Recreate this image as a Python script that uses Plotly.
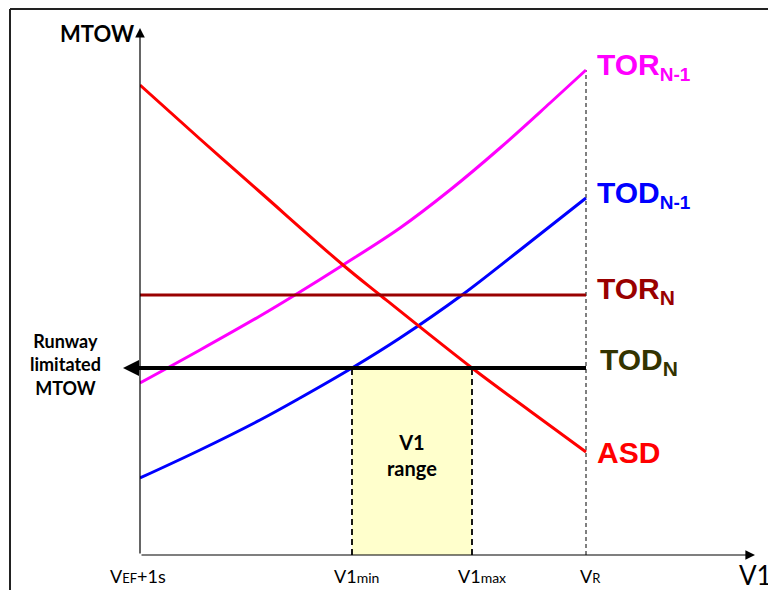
import plotly.graph_objects as go

# ---------------- data (abstract units: speed on x, MTOW on y) ----------------
speed_ticks = [0, 212, 332, 446]                  # VEF+1s, V1min, V1max, VR
speed_tick_labels = ["V<span style='font-size:13px'>EF</span>+1s",
                     "V1<span style='font-size:14px'>min</span>",
                     "V1<span style='font-size:14px'>max</span>",
                     "V<span style='font-size:13px'>R</span>"]

tor_n1_x = [0, 60, 120, 155, 203, 260, 310, 360, 410, 446]
tor_n1_y = [172, 205, 239, 260, 290, 327, 365, 407, 452, 485]

tod_n1_x = [0, 60, 120, 160, 212, 260, 322, 380, 446]
tod_n1_y = [77, 105, 135, 157, 187, 217, 260, 305, 357]

asd_x = [0, 60, 120, 203, 240, 332, 390, 446]
asd_y = [470, 416, 363, 290, 260, 187, 144, 103]

tor_n_level = 260
tod_n_level = 187

x_max = 615
y_max = 527

# ---------------- layout constants ----------------
OFF = 8                      # default page body margin of the html page
W, H = 776 - OFF, 590 - OFF
ML, MR, MT, MB = 140 - OFF, 21, 28 - OFF, 35
PW, PH = W - ML - MR, H - MT - MB


def px(x):   # screen x pixel -> paper
    return (x - OFF - ML) / PW


def py(y):   # screen y pixel -> paper
    return (H - MB - (y - OFF)) / PH


GEO = "Lato, 'DejaVu Sans', sans-serif"
BOLD = "'Liberation Sans', Arial, sans-serif"

v0, v1min, v1max, vr = speed_ticks

fig = go.Figure()

# V1 range box
fig.add_shape(type="rect", xref="x", yref="y", x0=v1min, x1=v1max, y0=0, y1=tod_n_level,
              fillcolor="#FFFFCC", line_width=0, layer="below")

# dashed verticals
for xv in (v1min, v1max):
    fig.add_trace(go.Scatter(x=[xv, xv], y=[0, tod_n_level], mode="lines",
                             line=dict(color="black", width=1.8, dash="6px,4px"),
                             hoverinfo="skip", showlegend=False))
fig.add_trace(go.Scatter(x=[vr, vr], y=[0, tor_n1_y[-1]], mode="lines",
                         line=dict(color="black", width=1, dash="4px,3px"),
                         hoverinfo="skip", showlegend=False))

# curves
fig.add_trace(go.Scatter(x=tor_n1_x, y=tor_n1_y, mode="lines", line_shape="spline",
                         line=dict(color="#FF00FF", width=3), showlegend=False))
fig.add_trace(go.Scatter(x=tod_n1_x, y=tod_n1_y, mode="lines", line_shape="spline",
                         line=dict(color="#0000FF", width=3), showlegend=False))
fig.add_trace(go.Scatter(x=asd_x, y=asd_y, mode="lines", line_shape="spline",
                         line=dict(color="#FF0000", width=3), showlegend=False))
fig.add_trace(go.Scatter(x=[v0, vr], y=[tor_n_level, tor_n_level], mode="lines",
                         line=dict(color="#990000", width=3), showlegend=False))
fig.add_trace(go.Scatter(x=[v0, vr], y=[tod_n_level, tod_n_level], mode="lines",
                         line=dict(color="black", width=4), showlegend=False,
                         cliponaxis=False))

ann = []
# axes arrows
ann.append(dict(x=x_max, y=0, ax=0, ay=0, xref="x", yref="y", axref="x", ayref="y",
                showarrow=True, arrowhead=2, arrowwidth=1.2, arrowsize=1.6, arrowcolor="black", text=""))
ann.append(dict(x=0, y=y_max, ax=0, ay=0, xref="x", yref="y", axref="x", ayref="y",
                showarrow=True, arrowhead=2, arrowwidth=1.2, arrowsize=1.6, arrowcolor="black", text=""))
# TOD_N arrow head to the left
ann.append(dict(x=-17, y=tod_n_level, ax=10, ay=tod_n_level, xref="x", yref="y", axref="x", ayref="y",
                showarrow=True, arrowhead=2, arrowwidth=4, arrowsize=0.8, arrowcolor="black", text=""))

# axis titles
ann.append(dict(x=px(97), y=py(34), xref="paper", yref="paper", text="MTOW", showarrow=False,
                xanchor="center", yanchor="middle",
                font=dict(family=GEO, size=22, color="black", weight="bold")))
ann.append(dict(x=px(755), y=py(575), xref="paper", yref="paper", text="V1", showarrow=False,
                xanchor="center", yanchor="middle",
                font=dict(family=GEO, size=26, color="black")))

# tick labels
shifts = [-2, 4, 10, 4]
for xv, lab, s in zip(speed_ticks, speed_tick_labels, shifts):
    ann.append(dict(x=xv, y=0, xref="x", yref="y", text=lab, showarrow=False, xshift=s,
                    xanchor="center", yanchor="middle",
                    yshift=-21, font=dict(family=GEO, size=18, color="black")))

# left label
ann.append(dict(x=px(65), y=py(365), xref="paper", yref="paper", text="Runway<br>limitated<br>MTOW",
                xanchor="center", yanchor="middle",
                showarrow=False, font=dict(family=GEO, size=18, color="black", weight="bold")))
# V1 range label
ann.append(dict(x=(v1min + v1max) / 2, y=100, xref="x", yref="y", text="V1<br>range",
                xanchor="center", yanchor="middle",
                showarrow=False, font=dict(family=GEO, size=20, color="black", weight="bold")))

# series labels
series_labels = [
    ("TOR<sub><span style='font-size:19px'>N-1</span></sub>", tor_n1_y[-1], "#FF00FF", 0, 4),
    ("TOD<sub><span style='font-size:19px'>N-1</span></sub>", tod_n1_y[-1], "#0000FF", 0, 4),
    ("TOR<sub>N</sub>", tor_n_level, "#990000", 0, 5),
    ("TOD<sub>N</sub>", tod_n_level, "#333300", 3, 7),
    ("ASD", asd_y[-1], "#FF0000", 0, 0),
]
for txt, yv, col, dx, dy in series_labels:
    ann.append(dict(x=vr, y=yv, xref="x", yref="y", text=txt, showarrow=False,
                    xanchor="left", yanchor="middle", xshift=9 + dx, yshift=dy,
                    font=dict(family=BOLD, size=30, color=col, weight="bold")))

# frame (left and top border of the picture)
fig.add_shape(type="line", xref="paper", yref="paper", x0=px(10), x1=px(10), y0=py(600), y1=py(9),
              line=dict(color="#222222", width=2))
fig.add_shape(type="line", xref="paper", yref="paper", x0=px(10), x1=px(790), y0=py(9), y1=py(9),
              line=dict(color="#222222", width=2))

fig.update_layout(
    width=W, height=H,
    margin=dict(l=ML, r=MR, t=MT, b=MB, pad=0),
    paper_bgcolor="white", plot_bgcolor="white",
    annotations=ann,
    xaxis=dict(range=[0, x_max], visible=False, fixedrange=True),
    yaxis=dict(range=[0, y_max], visible=False, fixedrange=True),
    showlegend=False,
)

fig.write_html("out.html")
